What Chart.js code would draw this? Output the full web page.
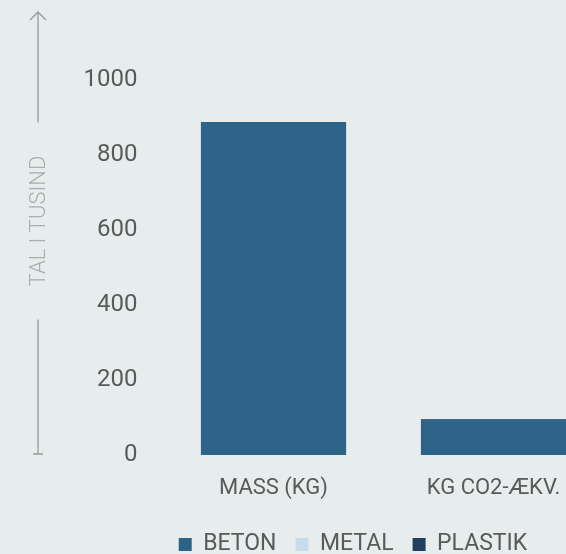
<!DOCTYPE html>
<html>
<head>
<meta charset="utf-8">
<script src="https://cdn.jsdelivr.net/npm/chart.js@4.4.1/dist/chart.umd.min.js"></script>
<style>
  html, body { margin: 0; padding: 0; background: #e7eded; overflow: hidden; }
  #wrap { width: 706px; height: 554px; position: relative; }
</style>
</head>
<body>
<div id="wrap"><canvas id="c"></canvas></div>
<script>
const categories = ["MASS (KG)", "KG CO2-ÆKV."];
const seriesNames = ["BETON", "METAL", "PLASTIK"];
const beton = [888, 94];
const metal = [0, 0];
const plastik = [0, 2];
const yTicks = [0, 200, 400, 600, 800, 1000];
const axisTitle = "TAL I TUSIND";

const colors = ["#2e6388", "#c6dcea", "#1f405f"];
const textColor = "#5a5a5a";

const axisArrow = {
  id: "axisArrow",
  afterDraw(chart) {
    const ctx = chart.ctx;
    const y = chart.scales.y;
    const x0 = 38;
    const bottom = y.getPixelForValue(0) - 1;
    const top = 12;
    ctx.save();
    ctx.font = "300 22px Roboto";
    const tw = ctx.measureText(axisTitle).width;
    const mid = 221;
    ctx.strokeStyle = "#9a9a9a";
    ctx.lineWidth = 1.3;
    ctx.beginPath();
    ctx.moveTo(x0, top);
    ctx.lineTo(x0, mid - tw / 2 - 33);
    ctx.moveTo(x0, mid + tw / 2 + 33);
    ctx.lineTo(x0, bottom);
    ctx.moveTo(x0 - 5, bottom);
    ctx.lineTo(x0 + 5, bottom);
    ctx.moveTo(x0 - 8, top + 8);
    ctx.lineTo(x0, top);
    ctx.lineTo(x0 + 8, top + 8);
    ctx.stroke();
    ctx.translate(x0, mid);
    ctx.rotate(-Math.PI / 2);
    ctx.fillStyle = "#acacac";
    ctx.textAlign = "center";
    ctx.textBaseline = "middle";
    ctx.fillText(axisTitle, 0, 1);
    ctx.restore();
  }
};

new Chart(document.getElementById("c"), {
  type: "bar",
  data: {
    labels: categories,
    datasets: [
      { label: seriesNames[0], data: beton, backgroundColor: colors[0] },
      { label: seriesNames[1], data: metal, backgroundColor: colors[1] },
      { label: seriesNames[2], data: plastik, backgroundColor: colors[2] }
    ].map(d => Object.assign(d, { barPercentage: 0.66, categoryPercentage: 1, borderWidth: 0 }))
  },
  options: {
    responsive: true,
    maintainAspectRatio: false,
    animation: false,
    layout: { padding: { top: 80, left: 0, right: 0, bottom: -12 } },
    plugins: {
      tooltip: { enabled: false },
      legend: {
        position: "bottom",
        labels: {
          color: textColor,
          font: { family: "Roboto", size: 23 },
          boxWidth: 13,
          boxHeight: 13,
          padding: 19
        }
      }
    },
    scales: {
      x: {
        stacked: true,
        grid: { display: false },
        border: { display: false },
        afterFit: s => { s.height = 59; },
        ticks: { color: textColor, font: { family: "Roboto", size: 22 }, padding: 12, maxRotation: 0 }
      },
      y: {
        stacked: true,
        min: 0,
        max: 1000,
        afterBuildTicks: s => { s.ticks = yTicks.map(v => ({ value: v })); },
        afterFit: s => { s.width = 163.5; },
        grid: { display: false },
        border: { display: false },
        ticks: { color: textColor, font: { family: "Roboto", size: 24 }, padding: 18, callback: v => String(v) }
      },
      y2: {
        position: "right",
        display: true,
        grid: { display: false },
        border: { display: false },
        ticks: { display: false },
        afterFit: s => { s.width = 102.5; }
      }
    }
  },
  plugins: [axisArrow]
});
</script>
</body>
</html>
